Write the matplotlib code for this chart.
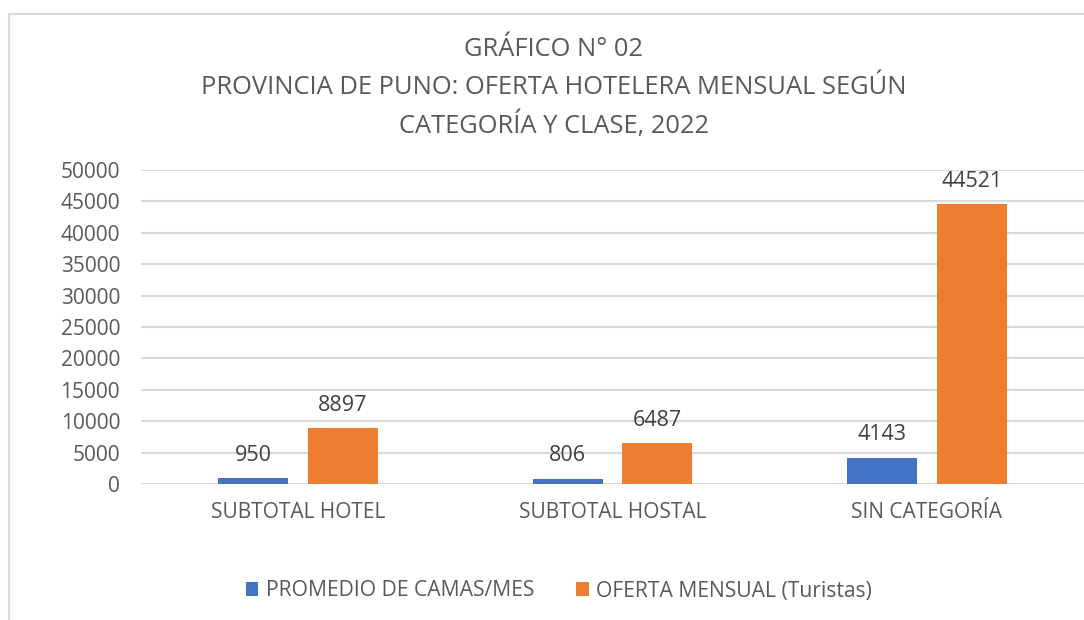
import matplotlib.pyplot as plt
from matplotlib.patches import Rectangle
import numpy as np

categorias = ["SUBTOTAL HOTEL", "SUBTOTAL HOSTAL", "SIN CATEGORÍA"]
promedio_camas = [950, 806, 4143]
oferta_mensual = [8897, 6487, 44521]
series = ["PROMEDIO DE CAMAS/MES", "OFERTA MENSUAL (Turistas)"]

gris = "#595959"
plt.rcParams['font.family'] = ['Open Sans', 'DejaVu Sans']

fig = plt.figure(figsize=(10.84, 6.2), dpi=100)
W, H = 1084, 620

# marco del grafico
fig.patches.append(Rectangle((9 / W, -0.1), 1.2, 1 - 14 / H + 0.1, transform=fig.transFigure,
                             fill=False, edgecolor="#d9d9d9", linewidth=1.5))

ax = fig.add_axes([141 / W, 1 - 484 / H, 1 - 141 / W, (484 - 170) / H])
x = np.arange(len(categorias))
ancho = 0.223
b1 = ax.bar(x - 0.1425, promedio_camas, ancho, color="#4472c4", label=series[0])
b2 = ax.bar(x + 0.1425, oferta_mensual, ancho, color="#ed7d31", label=series[1])

for barras in (b1, b2):
    for r in barras:
        ax.annotate(str(int(r.get_height())), (r.get_x() + r.get_width() / 2, r.get_height()),
                    xytext=(0, 9), textcoords="offset points", ha="center", va="bottom",
                    fontsize=15.5, color="#404040")

ax.set_xlim(-0.5, 2.5)
ax.set_ylim(0, 50000)
ax.set_yticks(range(0, 50001, 5000))
ax.set_xticks(x)
ax.set_xticklabels(categorias, fontsize=15.2)
ax.tick_params(axis="both", length=0, labelsize=15, colors=gris)
ax.tick_params(axis="y", pad=15)
ax.tick_params(axis="x", pad=13)
ax.grid(axis="y", color="#d9d9d9", linewidth=1.5)
ax.set_axisbelow(True)
for s in ax.spines.values():
    s.set_visible(False)

titulo = ["GRÁFICO N° 02", "PROVINCIA DE PUNO: OFERTA HOTELERA MENSUAL SEGÚN", "CATEGORÍA Y CLASE, 2022"]
for i, linea in enumerate(titulo):
    fig.text(554 / W, 1 - (50 + 37.5 * i) / H, linea, ha="center", va="center", fontsize=18.4, color=gris)

fig.legend(handles=[b1, b2], labels=series, loc="center", bbox_to_anchor=(559 / W, 1 - 591 / H),
           ncol=2, frameon=False, fontsize=15.2, labelcolor=gris, handlelength=0.6, handleheight=0.6,
           handletextpad=0.35, columnspacing=2.0)

fig.savefig("out.png", dpi=100)
